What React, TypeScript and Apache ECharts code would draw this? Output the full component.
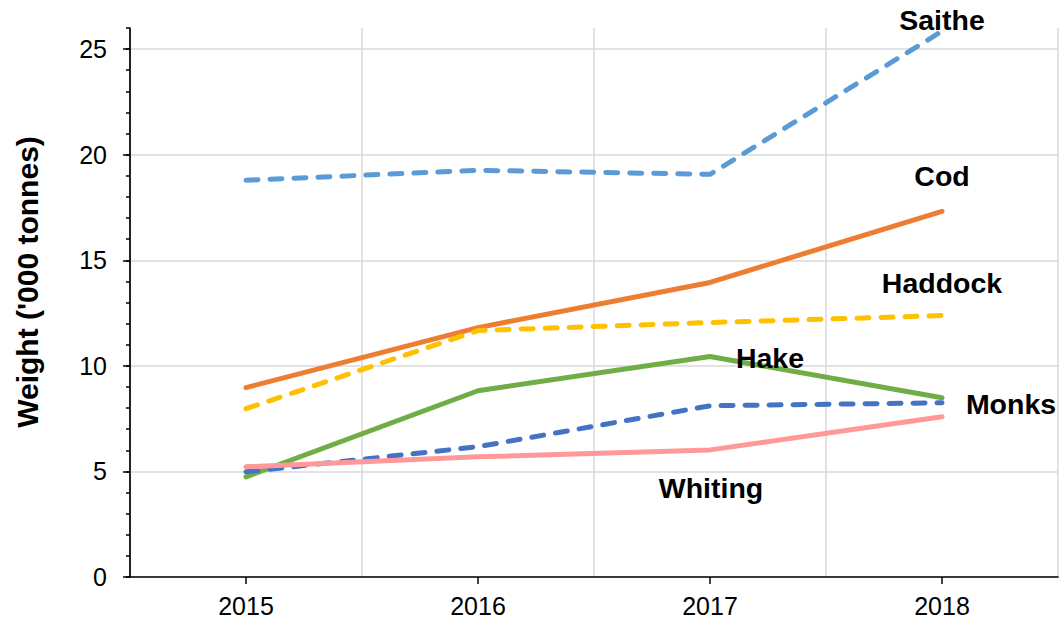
import React, { useEffect, useRef } from "react";
import * as echarts from "echarts";

const years = ["2015", "2016", "2017", "2018"];
const cod = [8.97, 11.81, 13.95, 17.32];
const haddock = [7.97, 11.67, 12.05, 12.38];
const hake = [4.74, 8.82, 10.44, 8.49];
const monks = [4.98, 6.17, 8.11, 8.25];
const saithe = [18.79, 19.26, 19.07, 25.85];
const whiting = [5.22, 5.69, 6.02, 7.59];
const yTicks = [0, 5, 10, 15, 20, 25];
const yTitle = "Weight ('000 tonnes)";

const FONT = "'Liberation Sans', Arial, sans-serif";

type SeriesDef = {
  name: string;
  values: number[];
  color: string;
  dashed: boolean;
  labelIndex: number;
  offset: [number, number];
};

const defs: SeriesDef[] = [
  { name: "Cod", values: cod, color: "#ED7D31", dashed: false, labelIndex: 3, offset: [0, -35] },
  { name: "Haddock", values: haddock, color: "#FFC000", dashed: true, labelIndex: 3, offset: [0, -33] },
  { name: "Hake", values: hake, color: "#70AD47", dashed: false, labelIndex: 2, offset: [60, 1] },
  { name: "Monks", values: monks, color: "#4472C4", dashed: true, labelIndex: 3, offset: [69, 1] },
  { name: "Saithe", values: saithe, color: "#5B9BD5", dashed: true, labelIndex: 3, offset: [0, -11] },
  { name: "Whiting", values: whiting, color: "#FF9999", dashed: false, labelIndex: 2, offset: [1, 38] },
];

export default function App() {
  const ref = useRef<HTMLDivElement>(null);
  useEffect(() => {
    if (!ref.current) return;
    const chart = echarts.init(ref.current, undefined, { renderer: "svg" });
    const series = defs.map((d) => ({
      name: d.name,
      type: "line",
      yAxisIndex: 0,
      symbol: "circle",
      symbolSize: 0,
      showSymbol: true,
      silent: true,
      z: 2,
      lineStyle: {
        color: d.color,
        width: 5,
        type: d.dashed ? [12, 12] : "solid",
        cap: "round",
        join: "round",
      },
      itemStyle: { color: d.color },
      data: d.values.map((v, i) =>
        i === d.labelIndex
          ? {
              value: v,
              label: {
                show: true,
                position: "inside",
                offset: d.offset,
                formatter: d.name,
                color: "#000",
                fontSize: 28.5,
                fontWeight: "bold",
                fontFamily: FONT,
                align: "center",
                verticalAlign: "middle",
              },
            }
          : v
      ),
    }));
    chart.setOption({
      animation: false,
      backgroundColor: "#fff",
      grid: { left: 130, right: 5, top: 28, bottom: 48, containLabel: false },
      xAxis: {
        type: "category",
        data: years,
        boundaryGap: true,
        axisLine: { show: true, lineStyle: { color: "#000", width: 1.7 } },
        axisTick: { show: true, alignWithLabel: true, length: 7, lineStyle: { color: "#000", width: 1.5 } },
        axisLabel: { color: "#000", fontSize: 25, fontFamily: FONT, margin: 16 },
        splitLine: { show: true, lineStyle: { color: "#D9D9D9", width: 1.5 } },
      },
      yAxis: [
        {
          type: "value",
          min: 0,
          max: 26,
          interval: 5,
          axisLine: { show: true, lineStyle: { color: "#000", width: 1.7 } },
          axisTick: { show: true, length: 7, lineStyle: { color: "#000", width: 1.5 } },
          axisLabel: {
            color: "#000",
            fontSize: 25,
            fontFamily: FONT,
            margin: 23,
            showMaxLabel: false,
            formatter: (v: number) => (yTicks.indexOf(v) >= 0 ? String(v) : ""),
          },
          splitLine: { show: true, showMaxLine: false, lineStyle: { color: "#D9D9D9", width: 1.5 } },
        },
        {
          type: "value",
          min: 0,
          max: 26,
          interval: 1,
          position: "left",
          offset: 0,
          axisLine: { show: false },
          axisTick: { show: true, length: 4, lineStyle: { color: "#000", width: 1.5 } },
          axisLabel: { show: false },
          splitLine: { show: false },
        },
      ],
      graphic: [
        {
          type: "text",
          x: 27,
          y: 282,
          rotation: Math.PI / 2,
          style: {
            text: yTitle,
            fill: "#000",
            fontSize: 30,
            fontWeight: "bold",
            fontFamily: FONT,
            textAlign: "center",
            textVerticalAlign: "middle",
          },
        },
      ],
      series,
    });
    return () => chart.dispose();
  }, []);
  return (
    <div
      ref={ref}
      style={{ position: "fixed", left: 0, top: 0, width: 1063, height: 625, background: "#fff" }}
    />
  );
}
